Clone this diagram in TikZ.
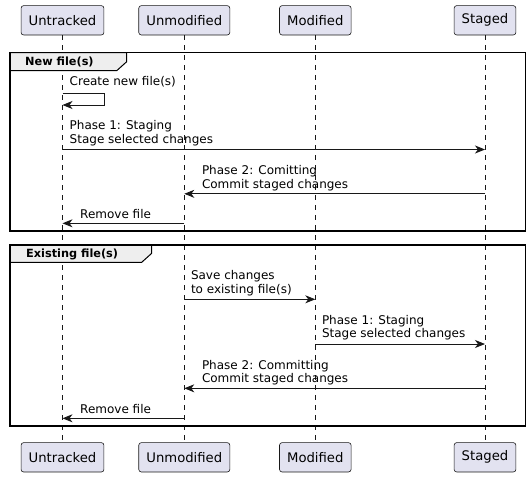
\documentclass[tikz,border=0pt]{standalone}
\usepackage{fontspec}
\setmainfont{DejaVu Sans}
\usetikzlibrary{arrows.meta}
\definecolor{partfill}{HTML}{E2E2F0}
\definecolor{linecol}{HTML}{181818}
\definecolor{tabfill}{HTML}{EEEEEE}

\begin{document}
\begin{tikzpicture}[x=1pt,y=-1pt,
  part/.style={draw=linecol,fill=partfill,line width=0.6pt,rounded corners=2.5pt,minimum height=29.3pt,inner xsep=7.6pt,font=\fontsize{13.2}{15}\selectfont},
  life/.style={draw=linecol,line width=0.5pt,dash pattern=on 5pt off 5pt},
  msg/.style={draw=linecol,line width=0.9pt,-{Stealth[length=10pt,width=8pt,inset=3pt]}},
  lbl/.style={anchor=south west,inner sep=0pt,text depth=0pt,align=left,font=\fontsize{12}{13.5}\selectfont},
  grp/.style={draw=black,line width=1.5pt},
  grptab/.style={draw=black,line width=1pt,fill=tabfill},
  grptitle/.style={anchor=west,inner sep=0pt,font=\bfseries\fontsize{11.3}{13}\selectfont}]
  \useasboundingbox (0,0) rectangle (530,477);

  %participants, top and bottom
  \node[part] (ut) at (62.5,20.3) {Untracked};
  \node[part] (um) at (184.3,20.3) {Unmodified};
  \node[part] (mo) at (315.3,20.3) {Modified};
  \node[part] (st) at (485,20.3) {Staged};
  \node[part] (ut-b) at (62.5,457.3) {Untracked};
  \node[part] (um-b) at (184.3,457.3) {Unmodified};
  \node[part] (mo-b) at (315.3,457.3) {Modified};
  \node[part] (st-b) at (485,457.3) {Staged};

  %lifelines
  \foreach \p in {ut,um,mo,st}
    \draw[life] (\p.south) -- (\p-b.north);

  %one row of points per message
  \foreach \r/\y in {a/93.3,b/105,c/149.5,d/193.8,e/223.3,f/299.3,g/344,h/388.3,i/418.3}
    \foreach \p in {ut,um,mo,st}
      \coordinate (\p\r) at (\p |- 0,\y);

  %group new file(s)
  \draw[grptab] (10,52.7) -- (126.7,52.7) -- (126.7,61.7) -- (116.7,70.7) -- (10,70.7) -- cycle;
  \draw[grp] (10,52.7) rectangle (525.7,231);
  \node[grptitle] (g1) at (25,61.7) {New file(s)};

  \draw[msg] (uta) -- (ut.east |- uta) -- (ut.east |- utb) -- (utb);
  \node[lbl] (m1) at ([xshift=7pt,yshift=7.5pt]uta) {Create new file(s)};
  \draw[msg] (utc) -- (stc);
  \node[lbl] (m2) at ([xshift=7pt,yshift=6pt]utc) {Phase 1: Staging\\Stage selected changes};
  \draw[msg] (std) -- (umd);
  \node[lbl] (m3) at ([xshift=17.5pt,yshift=5.5pt]umd) {Phase 2: Comitting\\Commit staged changes};
  \draw[msg] (ume) -- (ute);
  \node[lbl] (m4) at ([xshift=17.5pt,yshift=4.3pt]ute) {Remove file};

  %group existing file(s)
  \draw[grptab] (10,245) -- (151.7,245) -- (151.7,253.3) -- (141.7,262.3) -- (10,262.3) -- cycle;
  \draw[grp] (10,245) rectangle (525.7,426);
  \node[grptitle] (g2) at (26,254) {Existing file(s)};

  \draw[msg] (umf) -- (mof);
  \node[lbl] (m5) at ([xshift=6.5pt,yshift=6pt]umf) {Save changes\\to existing file(s)};
  \draw[msg] (mog) -- (stg);
  \node[lbl] (m6) at ([xshift=6.5pt,yshift=6pt]mog) {Phase 1: Staging\\Stage selected changes};
  \draw[msg] (sth) -- (umh);
  \node[lbl] (m7) at ([xshift=17.5pt,yshift=5.5pt]umh) {Phase 2: Committing\\Commit staged changes};
  \draw[msg] (umi) -- (uti);
  \node[lbl] (m8) at ([xshift=17.5pt,yshift=4.3pt]uti) {Remove file};
\end{tikzpicture}
\end{document}
